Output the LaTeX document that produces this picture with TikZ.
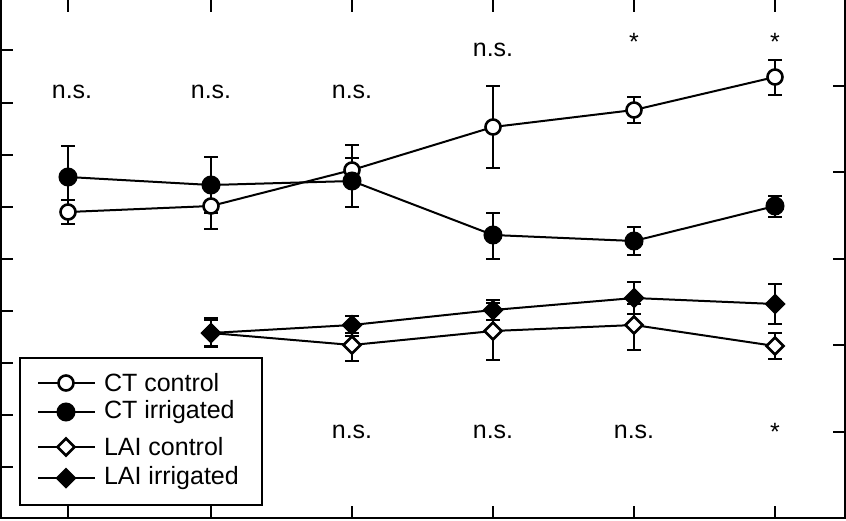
\documentclass[tikz,border=0pt]{standalone}
\usepackage{fontspec}
\setmainfont{Liberation Sans}
\usetikzlibrary{shapes.geometric}
\begin{document}
\begin{tikzpicture}[x=1pt,y=-1pt,line width=2pt,
  oc/.style={circle,draw,fill=white,inner sep=0pt,minimum size=15pt,line width=2.6pt},
  fc/.style={circle,draw,fill=black,inner sep=0pt,minimum size=17pt},
  od/.style={diamond,draw,fill=white,inner sep=0pt,minimum size=18pt,line width=2.6pt},
  fd/.style={diamond,draw,fill=black,inner sep=0pt,minimum size=19pt},
  lbl/.style={font=\fontsize{25}{28}\selectfont,inner sep=0pt}]
\useasboundingbox (0,0) rectangle (846,520);
\draw (1,-5) -- (1,518) -- (845,518) -- (845,-5);
\foreach \y in {50,103,155,207,259,311,363,415,467} \draw (1,\y) -- (13,\y);
\foreach \y in {86,172,259,345,432} \draw (845,\y) -- (833,\y);
\foreach \x in {68,211,352,493,634,775} {\draw (\x,518) -- (\x,506); \draw (\x,0) -- (\x,12);}
\newcommand{\eb}[3]{\draw (#1,#2) -- (#1,#3); \draw (#1-7,#2) -- (#1+7,#2); \draw (#1-7,#3) -- (#1+7,#3);}
\eb{68}{200}{224}\eb{211}{183}{229}\eb{352}{158}{183}\eb{493}{86}{168}\eb{634}{97}{123}\eb{775}{60}{95}
\eb{68}{146}{208}\eb{211}{157}{213}\eb{352}{145}{207}\eb{493}{213}{259}\eb{634}{227}{255}\eb{775}{196}{217}
\eb{211}{320}{346}\eb{352}{333}{361}\eb{493}{303}{360}\eb{634}{304}{350}\eb{775}{333}{359}
\eb{211}{318}{347}\eb{352}{316}{336}\eb{493}{300}{320}\eb{634}{282}{314}\eb{775}{284}{324}
\draw (68,212)--(211,206)--(352,170)--(493,127)--(634,110)--(775,77);
\draw (68,177)--(211,185)--(352,181)--(493,235)--(634,241)--(775,206);
\draw (211,333)--(352,345)--(493,331)--(634,325)--(775,346);
\draw (211,333)--(352,325)--(493,310)--(634,298)--(775,304);
\foreach \x/\y in {68/212,211/206,352/170,493/127,634/110,775/77} \node[oc] at (\x,\y) {};
\foreach \x/\y in {68/177,211/185,352/181,493/235,634/241,775/206} \node[fc] at (\x,\y) {};
\foreach \x/\y in {211/333,352/345,493/331,634/325,775/346} \node[od] at (\x,\y) {};
\foreach \x/\y in {211/333,352/325,493/310,634/298,775/304} \node[fd] at (\x,\y) {};
\foreach \x/\y in {72/92,211/92,352/92,493/50,352/432,493/432,634/432} \node[lbl] at (\x,\y) {n.s.};
\foreach \x/\y in {634/42,775/42,775/432} \node[lbl] at (\x,\y) {*};
\draw[fill=white] (20,358) rectangle (262,505);
\foreach \y/\s/\t in {383/oc/CT control,412/fc/CT irrigated,447/od/LAI control,478/fd/LAI irrigated} {
  \draw (38,\y) -- (95,\y); \node[\s] at (66,\y) {};
  \node[lbl,anchor=west] at (103,\y) {\t};}
\end{tikzpicture}
\end{document}
